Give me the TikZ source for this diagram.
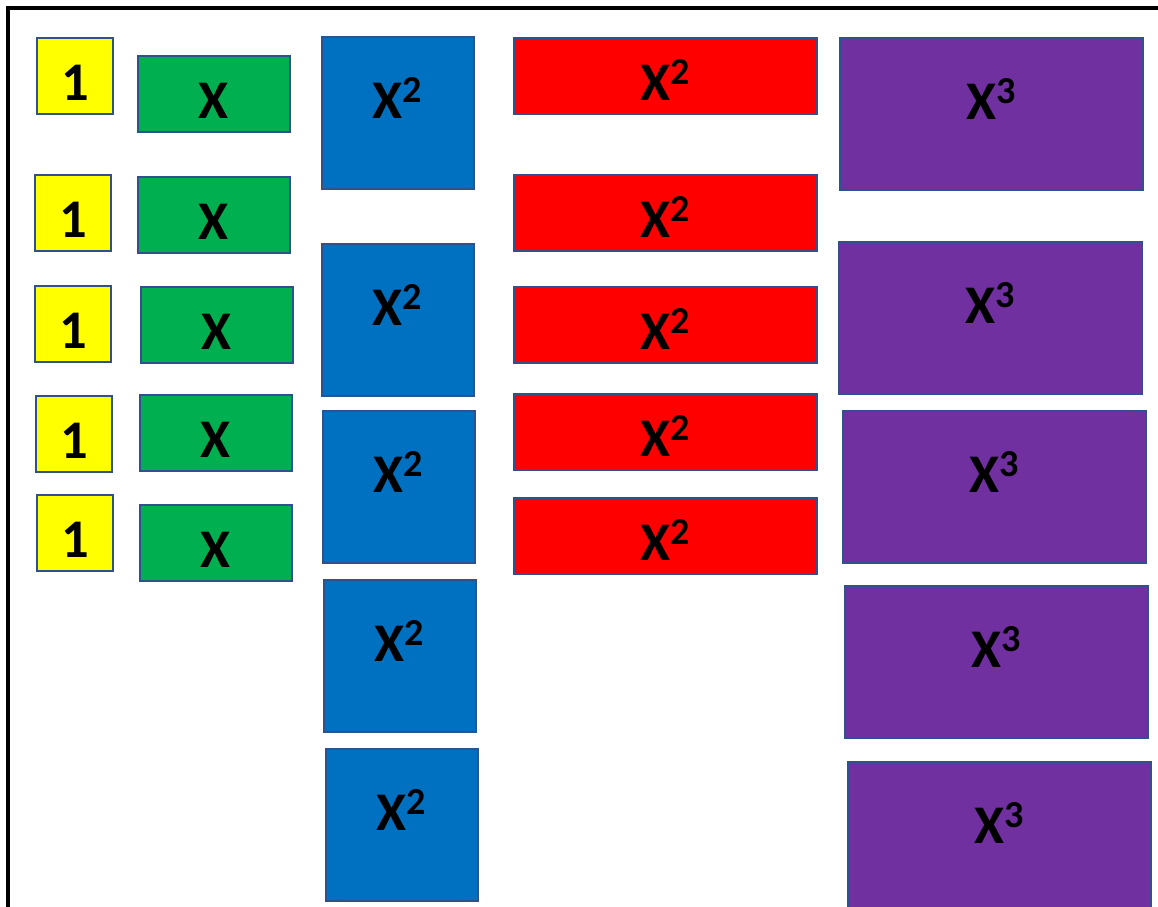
\documentclass[tikz,border=0pt]{standalone}
\usepackage{fontspec}
\setmainfont{Carlito}
\usepackage{tikz}
\usetikzlibrary{positioning}
\definecolor{tileedge}{RGB}{47,82,143}
\definecolor{unityellow}{RGB}{255,255,0}
\definecolor{xgreen}{RGB}{0,176,80}
\definecolor{sqblue}{RGB}{0,112,192}
\definecolor{sqred}{RGB}{255,0,0}
\definecolor{cubepurple}{RGB}{112,48,160}
\tikzset{
  tile/.style={rectangle, draw=tileedge, line width=1pt, anchor=north west,
    inner sep=0pt},
  unittile/.style={tile, fill=unityellow, minimum width=1.52cm, minimum height=1.52cm},
  xtile/.style={tile, fill=xgreen, minimum width=3.04cm, minimum height=1.52cm},
  sqtile/.style={tile, fill=sqblue, minimum width=3.04cm, minimum height=3.04cm},
  redtile/.style={tile, fill=sqred, minimum width=6.06cm, minimum height=1.52cm},
  cubetile/.style={tile, fill=cubepurple, minimum width=6.06cm, minimum height=3.04cm},
  lbl/.style={font=\fontsize{31}{36}\selectfont\bfseries, text height=0.62em,
    text depth=0pt, inner sep=0pt, yshift=-0.38cm},
  lbltall/.style={lbl, yshift=0.38cm},
  frame/.style={draw=black, line width=1.8pt}
}

\begin{document}
\begin{tikzpicture}[x=0.02cm, y=-0.02cm]
  \useasboundingbox (0,0) rectangle (1158,906);
  \clip (0,0) rectangle (1158,906);
  % outer frame
  \draw[frame] (8,8) rectangle (1200,960);
  % ones
  \node[unittile, label={[lbl]center:1}] (one1) at (36,37) {};
  \node[unittile, label={[lbl]center:1}] (one2) at (34,174) {};
  \node[unittile, label={[lbl]center:1}] (one3) at (34,285) {};
  \node[unittile, label={[lbl]center:1}] (one4) at (35,395) {};
  \node[unittile, label={[lbl]center:1}] (one5) at (36,494) {};
  % x tiles
  \node[xtile, label={[lbl]center:X}] (x1) at (137,55) {};
  \node[xtile, label={[lbl]center:X}] (x2) at (137,176) {};
  \node[xtile, label={[lbl]center:X}] (x3) at (140,286) {};
  \node[xtile, label={[lbl]center:X}] (x4) at (139,394) {};
  \node[xtile, label={[lbl]center:X}] (x5) at (139,504) {};
  % x squared, square tiles
  \node[sqtile, label={[lbltall]center:X\textsuperscript{2}}] (sq1) at (321,36) {};
  \node[sqtile, label={[lbltall]center:X\textsuperscript{2}}] (sq2) at (321,243) {};
  \node[sqtile, label={[lbltall]center:X\textsuperscript{2}}] (sq3) at (322,410) {};
  \node[sqtile, label={[lbltall]center:X\textsuperscript{2}}] (sq4) at (323,579) {};
  \node[sqtile, label={[lbltall]center:X\textsuperscript{2}}] (sq5) at (325,748) {};
  % x squared, long tiles
  \node[redtile, label={[lbl]center:X\textsuperscript{2}}] (rect1) at (513,37) {};
  \node[redtile, label={[lbl]center:X\textsuperscript{2}}] (rect2) at (513,174) {};
  \node[redtile, label={[lbl]center:X\textsuperscript{2}}] (rect3) at (513,286) {};
  \node[redtile, label={[lbl]center:X\textsuperscript{2}}] (rect4) at (513,393) {};
  \node[redtile, label={[lbl]center:X\textsuperscript{2}}] (rect5) at (513,497) {};
  % x cubed
  \node[cubetile, label={[lbltall]center:X\textsuperscript{3}}] (cube1) at (839,37) {};
  \node[cubetile, label={[lbltall]center:X\textsuperscript{3}}] (cube2) at (838,241) {};
  \node[cubetile, label={[lbltall]center:X\textsuperscript{3}}] (cube3) at (842,410) {};
  \node[cubetile, label={[lbltall]center:X\textsuperscript{3}}] (cube4) at (844,585) {};
  \node[cubetile, label={[lbltall]center:X\textsuperscript{3}}] (cube5) at (847,761) {};
\end{tikzpicture}
\end{document}
